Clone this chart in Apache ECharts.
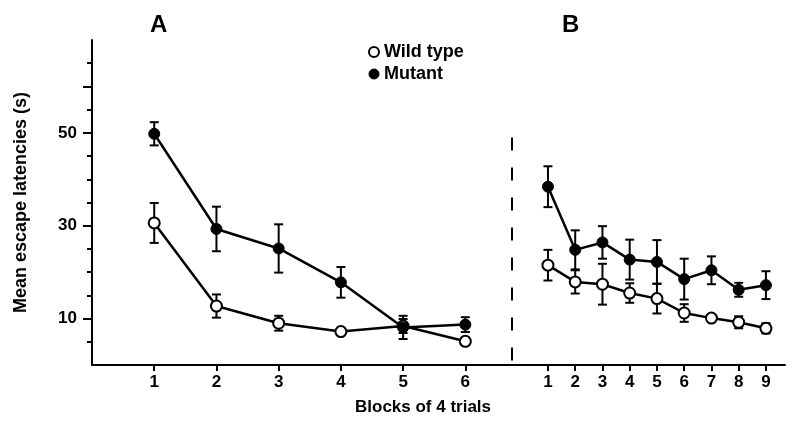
<!DOCTYPE html>
<html>
<head>
<meta charset="utf-8">
<script src="https://cdn.jsdelivr.net/npm/echarts@6/dist/echarts.min.js"></script>
<style>
  html, body { margin: 0; padding: 0; background: #fff; }
  #chart { width: 794px; height: 444px; }
</style>
</head>
<body>
<div id="chart"></div>
<script>
// 数据
const blocksA = [1, 2, 3, 4, 5, 6]
const blocksB = [1, 2, 3, 4, 5, 6, 7, 8, 9]
const wildA = [30.6, 12.7, 9.0, 7.2, 8.4, 5.1]
const wildAErr = [4.3, 2.5, 1.6, 0.7, 1.5, 0.8]
const mutA = [49.8, 29.3, 25.1, 17.8, 8.1, 8.7]
const mutAErr = [2.5, 4.8, 5.2, 3.3, 2.5, 1.6]
const wildB = [21.5, 17.9, 17.4, 15.5, 14.3, 11.2, 10.1, 9.2, 7.9]
const wildBErr = [3.3, 2.5, 4.4, 2.1, 3.2, 1.9, 0.5, 1.3, 1.1]
const mutB = [38.4, 24.8, 26.4, 22.7, 22.2, 18.5, 20.4, 16.2, 17.2]
const mutBErr = [4.4, 4.2, 3.5, 4.3, 4.7, 4.4, 3.0, 1.5, 3.0]
const yMinorTicks = [5, 10, 15, 20, 25, 30, 35, 40, 45, 50, 55, 60, 65]
const yMajorTicks = [10, 30, 50, 60]
const yLabels = [10, 30, 50]

const font = 'Liberation Sans, Arial, sans-serif'
const narrow = 'Liberation Sans Narrow, Liberation Sans, Arial, sans-serif'
const xMinB = -0.32
const dividerTop = 49

const openStyle = { color: '#fff', borderColor: '#000', borderWidth: 2 }
const filledStyle = { color: '#000', borderColor: '#000', borderWidth: 1 }

function pairs(xs, ys) {
  return xs.map((x, i) => [x, ys[i]])
}
function errPairs(xs, ys, es) {
  return xs.map((x, i) => [x, ys[i] - es[i], ys[i] + es[i]])
}

function errorBar(name, idx, data, filled) {
  return {
    name: name,
    type: 'custom',
    xAxisIndex: idx,
    yAxisIndex: idx === 0 ? 0 : 2,
    z: 3,
    data: data,
    itemStyle: filled ? filledStyle : openStyle,
    renderItem: function (params, api) {
      const lo = api.coord([api.value(0), api.value(1)])
      const hi = api.coord([api.value(0), api.value(2)])
      const w = 4.5
      const style = { stroke: '#000', lineWidth: 2 }
      return {
        type: 'group',
        children: [
          { type: 'line', shape: { x1: lo[0], y1: lo[1], x2: hi[0], y2: hi[1] }, style: style },
          { type: 'line', shape: { x1: lo[0] - w, y1: lo[1], x2: lo[0] + w, y2: lo[1] }, style: style },
          { type: 'line', shape: { x1: hi[0] - w, y1: hi[1], x2: hi[0] + w, y2: hi[1] }, style: style }
        ]
      }
    }
  }
}

function lineSeries(name, idx, data, filled) {
  return {
    name: name,
    type: 'line',
    xAxisIndex: idx,
    yAxisIndex: idx === 0 ? 0 : 2,
    data: data,
    z: filled ? 5 : 4,
    symbol: 'circle',
    symbolSize: 11,
    lineStyle: { color: '#000', width: 2.5 },
    itemStyle: filled ? filledStyle : openStyle
  }
}

const chart = echarts.init(document.getElementById('chart'))
const xAxisCommon = {
  type: 'value',
  splitLine: { show: false },
  axisLine: { show: true, onZero: false, lineStyle: { color: '#000', width: 2 } },
  axisTick: { length: 6, lineStyle: { color: '#000', width: 2 } },
  axisLabel: { color: '#000', fontFamily: narrow, fontWeight: 'bold', fontSize: 17, margin: 9 }
}

const option = {
  animation: false,
  title: [
    { text: 'A', left: 145, top: 8, textStyle: { fontFamily: font, fontWeight: 'bold', fontSize: 24, color: '#000' } },
    { text: 'B', left: 557, top: 8, textStyle: { fontFamily: font, fontWeight: 'bold', fontSize: 24, color: '#000' } }
  ],
  legend: {
    data: [
      { name: 'Wild type', itemStyle: openStyle },
      { name: 'Mutant', itemStyle: filledStyle }
    ],
    orient: 'vertical',
    left: 363,
    top: 38,
    itemGap: 4,
    itemWidth: 10,
    itemHeight: 10,
    icon: 'circle',
    textStyle: { fontFamily: font, fontWeight: 'bold', fontSize: 18, color: '#000' }
  },
  grid: [
    { left: 92, top: 40, width: 420, bottom: 79 },
    { left: 512, top: 40, right: 9, bottom: 79 }
  ],
  xAxis: [
    Object.assign({}, xAxisCommon, {
      gridIndex: 0, min: 0, max: 6.75,
      axisTick: Object.assign({}, xAxisCommon.axisTick, { customValues: blocksA }),
      axisLabel: Object.assign({}, xAxisCommon.axisLabel, { customValues: blocksA })
    }),
    Object.assign({}, xAxisCommon, {
      gridIndex: 1, min: xMinB, max: 9.7,
      axisTick: Object.assign({}, xAxisCommon.axisTick, { customValues: blocksB }),
      axisLabel: Object.assign({}, xAxisCommon.axisLabel, { customValues: blocksB })
    })
  ],
  yAxis: [
    {
      gridIndex: 0, type: 'value', min: 0, max: 70, position: 'left',
      splitLine: { show: false },
      axisLine: { show: true, lineStyle: { color: '#000', width: 2 } },
      axisTick: { show: true, length: 5, customValues: yMinorTicks, lineStyle: { color: '#000', width: 2 } },
      axisLabel: { show: false },
      name: 'Mean escape latencies (s)',
      nameLocation: 'middle',
      nameGap: 62,
      nameTextStyle: { fontFamily: font, fontWeight: 'bold', fontSize: 18, color: '#000' }
    },
    {
      gridIndex: 0, type: 'value', min: 0, max: 70, position: 'left', offset: 0,
      splitLine: { show: false },
      axisLine: { show: false },
      axisTick: { show: true, length: 9, customValues: yMajorTicks, lineStyle: { color: '#000', width: 2 } },
      axisLabel: { show: true, customValues: yLabels, margin: 15, color: '#000', fontFamily: font, fontWeight: 'bold', fontSize: 17 }
    },
    {
      gridIndex: 1, type: 'value', min: 0, max: 70, show: false
    }
  ],
  graphic: [
    {
      type: 'text', left: 355, top: 399,
      style: { text: 'Blocks of 4 trials', fontFamily: narrow, fontWeight: 'bold', fontSize: 17, fill: '#000' }
    }
  ],
  series: [
    errorBar('Wild type', 0, errPairs(blocksA, wildA, wildAErr), false),
    errorBar('Mutant', 0, errPairs(blocksA, mutA, mutAErr), true),
    lineSeries('Wild type', 0, pairs(blocksA, wildA), false),
    lineSeries('Mutant', 0, pairs(blocksA, mutA), true),
    Object.assign(errorBar('Wild type', 1, errPairs(blocksB, wildB, wildBErr), false), {
      markLine: {
        silent: true,
        symbol: 'none',
        label: { show: false },
        lineStyle: { color: '#000', width: 2, type: [13, 17] },
        data: [[{ coord: [xMinB, dividerTop] }, { coord: [xMinB, 0] }]]
      }
    }),
    errorBar('Mutant', 1, errPairs(blocksB, mutB, mutBErr), true),
    lineSeries('Wild type', 1, pairs(blocksB, wildB), false),
    lineSeries('Mutant', 1, pairs(blocksB, mutB), true)
  ]
}
chart.setOption(option)
window.addEventListener('resize', () => chart.resize())
</script>
</body>
</html>
